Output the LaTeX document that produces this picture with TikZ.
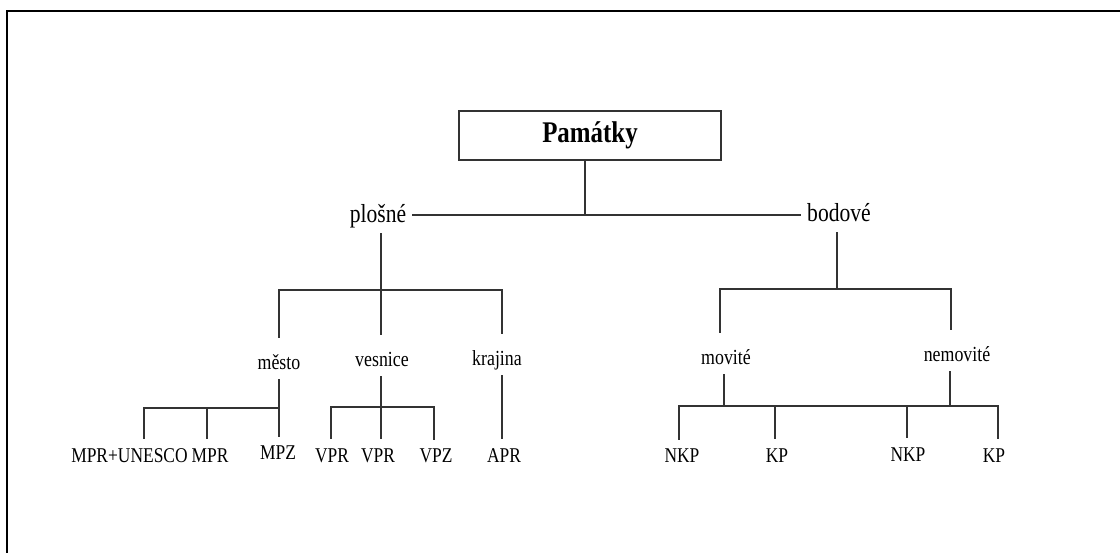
\documentclass[tikz,border=0pt]{standalone}
\usepackage{fontspec}
\setmainfont[FakeStretch=0.83]{Liberation Serif}
\begin{document}
\begin{tikzpicture}[x=1pt,y=-1pt,
  conn/.style={draw=black!80, line width=1.2pt},
  toplbl/.style={font=\fontsize{26}{30}\selectfont, anchor=base, inner xsep=6pt, inner ysep=3pt, text depth=7pt},
  midlbl/.style={font=\fontsize{21.5}{25}\selectfont, anchor=base, inner sep=4pt, text height=28pt, text depth=5pt},
  botlbl/.style={font=\fontsize{21}{25}\selectfont, anchor=base, inner sep=3pt, text height=20pt},
  rootbox/.style={draw=black!80, line width=1.5pt, minimum width=262pt, minimum height=49pt, font=\fontsize{30}{34}\selectfont\bfseries}]
\useasboundingbox (0,0) rectangle (1120,553);
% frame
\draw[line width=2.6pt, black] (7,560) -- (7,11) -- (1130,11);
% nodes
\node[rootbox] (pam) at (590,135.5) {Památky};
\node[toplbl] (plosne) at (378,223) {plošné};
\node[toplbl] (bodove) at (839,222) {bodové};
\node[midlbl] (mesto) at (279,370) {město};
\node[midlbl] (vesnice) at (382,367) {vesnice};
\node[midlbl] (krajina) at (497,366) {krajina};
\node[midlbl] (movite) at (726,365) {movité};
\node[midlbl] (nemovite) at (957,362) {nemovité};
\node[botlbl] (unesco) at (129.5,462) {MPR+UNESCO};
\node[botlbl] (mpr) at (210,462) {MPR};
\node[botlbl] (mpz) at (278,460) {MPZ};
\node[botlbl] (vpra) at (332,462) {VPR};
\node[botlbl] (vprb) at (378,462) {VPR};
\node[botlbl] (vpz) at (436,463) {VPZ};
\node[botlbl] (apr) at (504,462) {APR};
\node[botlbl] (nkpa) at (682,463) {NKP};
\node[botlbl] (kpa) at (777,462) {KP};
\node[botlbl] (nkpb) at (908,461) {NKP};
\node[botlbl] (kpb) at (994,462) {KP};
% junctions
\coordinate (j0) at (585,215);
\coordinate (jp) at (381,290);
\coordinate (jb) at (837,289);
\coordinate (jm) at (279,408);
\coordinate (jv) at (381,407);
\coordinate (jmo) at (724,406);
\coordinate (jne) at (950,406);
% connectors
\draw[conn] (j0 |- pam.south) -- (j0);
\draw[conn] (plosne.east |- j0) -- (bodove.west |- j0);
\draw[conn] (jp |- plosne.south) -- (jp |- vesnice.north);
\draw[conn] (jp) -| (mesto.north);
\draw[conn] (jp) -| ([xshift=5pt]krajina.north);
\draw[conn] (jb |- bodove.south) -- (jb);
\draw[conn] (jb) -| ([xshift=-6pt]movite.north);
\draw[conn] (jb) -| ([xshift=-6pt]nemovite.north);
\draw[conn] (jm |- mesto.south) -- (jm |- mpz.north);
\draw[conn] (jm) -| ([xshift=14.5pt]unesco.north);
\draw[conn] (jm) -| ([xshift=-3pt]mpr.north);
\draw[conn] (jv |- vesnice.south) -- (jv |- vprb.north);
\draw[conn] (jv) -| ([xshift=-1pt]vpra.north);
\draw[conn] (jv) -| ([xshift=-2pt]vpz.north);
\draw[conn] ([xshift=5pt]krajina.south) -- ([xshift=-2pt]apr.north);
\draw[conn] (jmo |- movite.south) -- (jmo);
\draw[conn] (jne |- nemovite.south) -- (jne);
\draw[conn] (jmo) -- (jne);
\draw[conn] (jmo) -| ([xshift=-3pt]nkpa.north);
\draw[conn] (jmo) -| ([xshift=-2pt]kpa.north);
\draw[conn] (jne) -| ([xshift=-1pt]nkpb.north);
\draw[conn] (jne) -| ([xshift=4pt]kpb.north);
\end{tikzpicture}
\end{document}
